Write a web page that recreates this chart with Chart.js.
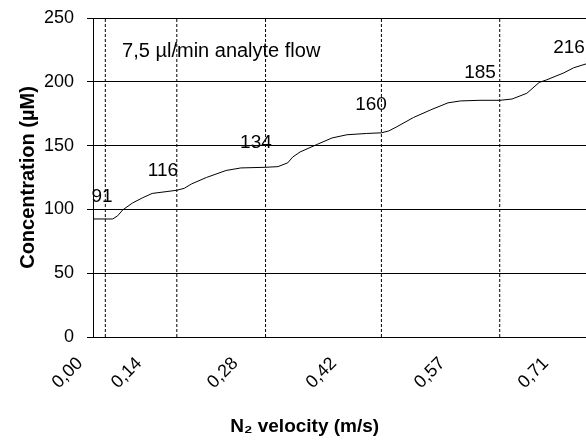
<!DOCTYPE html>
<html>
<head>
<meta charset="utf-8">
<script src="https://cdn.jsdelivr.net/npm/chart.js@4"></script>
<style>
  html, body { margin: 0; padding: 0; background: #fff; }
  #wrap { width: 586px; height: 440px; }
</style>
</head>
<body>
<div id="wrap"><canvas id="concChart"></canvas></div>
<script>
// x = sample number along the run (0..200), y = concentration in uM
const sampleNo = [0, 8, 10, 12, 16, 20, 24, 30, 34, 37, 40, 46, 54, 60, 70, 75, 79, 81, 84, 91, 97, 103, 111, 117, 120, 123, 130, 137, 144, 149, 157, 165, 170, 176, 181, 184, 191, 195, 200];
const concentration = [92.5, 92.5, 95, 99.5, 105, 109, 112.5, 114, 115, 116.5, 120, 125, 130.5, 132.5, 133, 133.5, 136.5, 141, 145, 151, 156, 158.5, 159.5, 160, 161.5, 164.5, 172, 178, 183.5, 185, 185.5, 185.5, 186.5, 191, 199.5, 201.5, 207, 211, 214];

const tickSamples = [0, 24, 63, 103, 147, 189];
const tickLabels = ["0,00", "0,14", "0,28", "0,42", "0,57", "0,71"];

// dashed markers where the N2 velocity was stepped
const stepSamples = [5, 34, 70, 117, 165];

const plateauLabels = ["91", "116", "134", "160", "185", "216"];
const plateauLabelX = [3.7, 28.4, 66.1, 112.8, 157, 193.1];
const plateauLabelY = [110, 130, 152, 182, 207, 226.5];

const flowNote = "7,5 \u00b5l/min analyte flow";
const flowNoteAt = [11.8, 224];

const xTitle = "N\u2082 velocity (m/s)";

const FONT = "'Liberation Sans', Arial, sans-serif";

const stepDatasets = stepSamples.map((s) => ({
  data: [{ x: s, y: 0 }, { x: s, y: 250 }],
  borderColor: "#000",
  borderWidth: 1,
  borderDash: [3, 2],
  pointRadius: 0,
  fill: false,
}));

const textLabels = {
  id: "textLabels",
  afterDatasetsDraw(chart) {
    const { ctx, scales: { x, y } } = chart;
    ctx.save();
    ctx.fillStyle = "#000";
    ctx.font = "19px " + FONT;
    ctx.textAlign = "center";
    ctx.textBaseline = "middle";
    plateauLabels.forEach((t, i) => {
      ctx.fillText(t, x.getPixelForValue(plateauLabelX[i]), y.getPixelForValue(plateauLabelY[i]));
    });
    ctx.textAlign = "left";
    ctx.font = "20px " + FONT;
    ctx.fillText(flowNote, x.getPixelForValue(flowNoteAt[0]), y.getPixelForValue(flowNoteAt[1]));

    // axis title sits left of the plot centre in the original
    ctx.textAlign = "center";
    ctx.font = "bold 19px " + FONT;
    ctx.fillText(xTitle, chart.width * 0.52, chart.height - 13);
    ctx.restore();
  },
};

const ctx = document.getElementById("concChart").getContext("2d");
new Chart(ctx, {
  type: "line",
  data: {
    datasets: [
      {
        data: sampleNo.map((s, i) => ({ x: s, y: concentration[i] })),
        borderColor: "#000",
        borderWidth: 1,
        pointRadius: 0,
        tension: 0,
        fill: false,
      },
      ...stepDatasets,
    ],
  },
  options: {
    responsive: true,
    maintainAspectRatio: false,
    animation: false,
    layout: { padding: { top: 18, right: 0, left: 0, bottom: 0 } },
    plugins: {
      legend: { display: false },
      tooltip: { enabled: false },
    },
    scales: {
      x: {
        type: "linear",
        min: 0,
        max: 200,
        afterBuildTicks: (scale) => {
          scale.ticks = tickSamples.map((v) => ({ value: v }));
        },
        afterFit: (scale) => {
          scale.height = 103;
        },
        grid: { display: false },
        border: { display: true, color: "#000", width: 1 },
        ticks: {
          minRotation: 45,
          maxRotation: 45,
          autoSkip: false,
          labelOffset: -13,
          padding: 8,
          color: "#000",
          font: { family: FONT, size: 18 },
          callback: (value, index) => tickLabels[index],
        },
      },
      y: {
        min: 0,
        max: 250,
        afterFit: (scale) => {
          scale.width = 93;
          scale.paddingTop = 0;
          scale.paddingBottom = 0;
        },
        grid: { color: "#000", lineWidth: 1, tickLength: 6, drawTicks: true },
        border: { display: true, color: "#000", width: 1 },
        ticks: {
          stepSize: 50,
          padding: 13,
          color: "#000",
          font: { family: FONT, size: 18 },
        },
        title: {
          display: true,
          text: "Concentration (\u00b5M)",
          color: "#000",
          font: { family: FONT, size: 20, weight: "bold" },
          padding: { top: 16, bottom: 0 },
        },
      },
    },
  },
  plugins: [textLabels],
});
</script>
</body>
</html>
